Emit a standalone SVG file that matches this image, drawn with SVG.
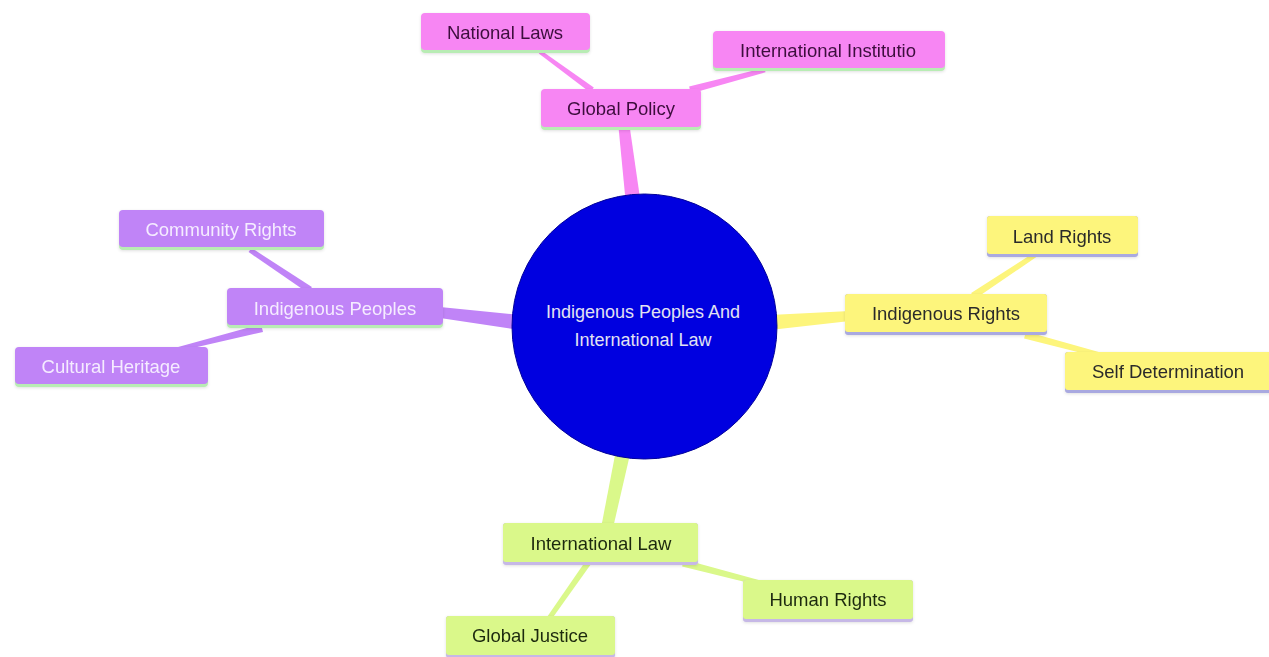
<svg xmlns="http://www.w3.org/2000/svg" width="1269" height="657" viewBox="0 0 1269 657">
<style>
  text { font-family: "Liberation Sans", Arial, sans-serif; font-size: 18.5px; text-anchor: middle; }
  .pink rect.b { fill: #f786f3; }
  .pink rect.u { fill: #b8ecb4; }
  .pink text { fill: #3d0f3d; }
  .purple rect.b { fill: #c084f7; }
  .purple rect.u { fill: #b8ecb4; }
  .purple text { fill: #f5ecff; }
  .yellow rect.b { fill: #fdf57c; }
  .yellow rect.u { fill: #a9a9e0; }
  .yellow text { fill: #2b2b2b; }
  .green rect.b { fill: #daf88a; }
  .green rect.u { fill: #c6b8e6; }
  .green text { fill: #1e2a10; }
  .c-pink { fill: #f786f3; }
  .c-purple { fill: #c084f7; }
  .c-yellow { fill: #fdf57c; }
  .c-green { fill: #daf88a; }
</style>
<defs>
  <filter id="sh" x="-10%" y="-20%" width="120%" height="150%">
    <feDropShadow dx="0" dy="1" stdDeviation="1.5" flood-color="#000" flood-opacity="0.12"/>
  </filter>
</defs>
<rect width="1269" height="657" fill="#ffffff"/>
<g id="connectors">
  <polygon class="c-pink" points="626,205 641,205 629,122 618,122"/>
  <polygon class="c-purple" points="520,315 520,330 440,318 440,307"/>
  <polygon class="c-yellow" points="770,315 770,330 850,321 850,311"/>
  <polygon class="c-green" points="616,450 631,450 613,528 601,528"/>
  <polygon class="c-pink" points="593.8,87.6 541.2,50.4 538.8,53.6 590.2,92.4"/>
  <polygon class="c-pink" points="690.9,93.4 765.5,72.2 764.5,67.8 689.1,86.6"/>
  <polygon class="c-purple" points="311.9,287.1 251.4,247.9 248.6,252.1 308.1,292.9"/>
  <polygon class="c-purple" points="263,331.9 175.5,351.9 174.5,348.1 261,324.1"/>
  <polygon class="c-yellow" points="974.9,298.9 1036.4,257.1 1033.6,252.9 971.1,293.1"/>
  <polygon class="c-yellow" points="1024.1,338.4 1099.4,357.4 1100.6,352.6 1025.9,331.6"/>
  <polygon class="c-green" points="590.5,564.7 550,621.4 546,618.6 585.5,561.3"/>
  <polygon class="c-green" points="682.1,566.4 759.4,585.4 760.6,580.6 683.9,559.6"/>
</g>
<g id="center">
  <circle cx="644.5" cy="326.5" r="132.5" fill="#0000e0" stroke="#00009a" stroke-width="1"/>
  <text x="643" y="318" style="fill:#e2e2f2;font-size:18px">Indigenous Peoples And</text>
  <text x="643" y="346" style="fill:#e2e2f2;font-size:18px">International Law</text>
</g>
<g id="global-policy" class="pink" filter="url(#sh)">
  <rect class="u" x="541" y="91" width="160" height="39" rx="4"/>
  <rect class="b" x="541" y="89" width="160" height="38" rx="4"/>
  <text x="621" y="114.5">Global Policy</text>
</g>
<g id="national-laws" class="pink" filter="url(#sh)">
  <rect class="u" x="421" y="15" width="169" height="38" rx="4"/>
  <rect class="b" x="421" y="13" width="169" height="37" rx="4"/>
  <text x="505" y="38.5">National Laws</text>
</g>
<g id="international-institutio" class="pink" filter="url(#sh)">
  <rect class="u" x="713" y="33" width="232" height="38" rx="4"/>
  <rect class="b" x="713" y="31" width="232" height="37" rx="4"/>
  <text x="828" y="56.5">International Institutio</text>
</g>
<g id="indigenous-peoples" class="purple" filter="url(#sh)">
  <rect class="u" x="227" y="290" width="216" height="38" rx="4"/>
  <rect class="b" x="227" y="288" width="216" height="37" rx="4"/>
  <text x="335" y="314.5">Indigenous Peoples</text>
</g>
<g id="community-rights" class="purple" filter="url(#sh)">
  <rect class="u" x="119" y="212" width="205" height="38" rx="4"/>
  <rect class="b" x="119" y="210" width="205" height="37" rx="4"/>
  <text x="221" y="235.5">Community Rights</text>
</g>
<g id="cultural-heritage" class="purple" filter="url(#sh)">
  <rect class="u" x="15" y="349" width="193" height="38" rx="4"/>
  <rect class="b" x="15" y="347" width="193" height="37" rx="4"/>
  <text x="111" y="372.5">Cultural Heritage</text>
</g>
<g id="indigenous-rights" class="yellow" filter="url(#sh)">
  <rect class="u" x="845" y="294" width="202" height="41" rx="3"/>
  <rect class="b" x="845" y="294" width="202" height="38" rx="3"/>
  <text x="946" y="319.5">Indigenous Rights</text>
</g>
<g id="land-rights" class="yellow" filter="url(#sh)">
  <rect class="u" x="987" y="216" width="151" height="41" rx="3"/>
  <rect class="b" x="987" y="216" width="151" height="38" rx="3"/>
  <text x="1062" y="242.5">Land Rights</text>
</g>
<g id="self-determination" class="yellow" filter="url(#sh)">
  <rect class="u" x="1065" y="352" width="208" height="41" rx="3"/>
  <rect class="b" x="1065" y="352" width="208" height="38" rx="3"/>
  <text x="1168" y="378">Self Determination</text>
</g>
<g id="international-law" class="green" filter="url(#sh)">
  <rect class="u" x="503" y="523" width="195" height="42" rx="3"/>
  <rect class="b" x="503" y="523" width="195" height="39" rx="3"/>
  <text x="601" y="549.5">International Law</text>
</g>
<g id="human-rights" class="green" filter="url(#sh)">
  <rect class="u" x="743" y="580" width="170" height="42" rx="3"/>
  <rect class="b" x="743" y="580" width="170" height="39" rx="3"/>
  <text x="828" y="605.5">Human Rights</text>
</g>
<g id="global-justice" class="green" filter="url(#sh)">
  <rect class="u" x="446" y="616" width="169" height="42" rx="3"/>
  <rect class="b" x="446" y="616" width="169" height="39" rx="3"/>
  <text x="530" y="641.5">Global Justice</text>
</g>
</svg>
